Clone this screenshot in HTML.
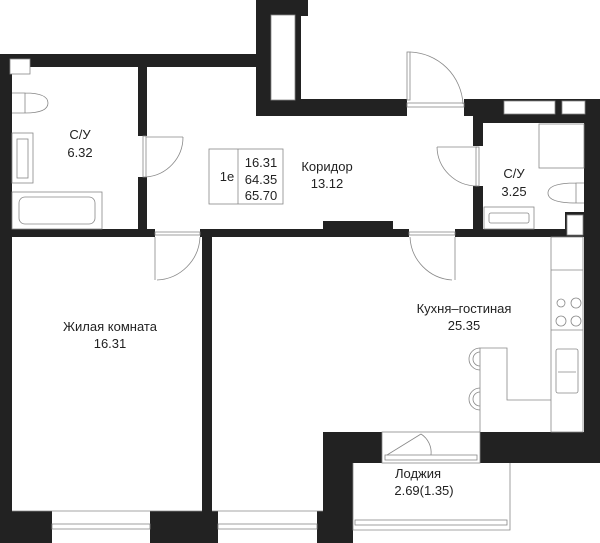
<!DOCTYPE html>
<html><head><meta charset="utf-8"><style>
body{margin:0;background:#fff}
svg{display:block}
text{font-family:"Liberation Sans",sans-serif;font-size:13px;fill:#222;text-anchor:middle}
</style></head><body>
<svg width="600" height="543" viewBox="0 0 600 543" xmlns="http://www.w3.org/2000/svg">
<g fill="#222">
<!-- top left wall -->
<rect x="0" y="54" width="258" height="13"/>
<rect x="0" y="54" width="12" height="489"/>
<!-- shaft -->
<rect x="256" y="0" width="45" height="116"/>
<rect x="300" y="0" width="8" height="16"/>
<!-- corridor top wall -->
<rect x="300" y="99" width="107" height="17"/>
<rect x="464" y="99" width="136" height="17"/>
<!-- right outer wall -->
<rect x="584" y="99" width="16" height="335"/>
<rect x="480" y="432" width="120" height="31"/>
<!-- SU2 walls -->
<rect x="473" y="116" width="112" height="7"/>
<rect x="473" y="116" width="10" height="30"/>
<rect x="473" y="186" width="10" height="51"/>
<rect x="455" y="229" width="130" height="8"/>
<rect x="565" y="212" width="20" height="25"/>
<!-- corridor bottom wall -->
<rect x="0" y="229" width="155" height="8"/>
<rect x="200" y="229" width="209" height="8"/>
<rect x="323" y="221" width="70" height="9"/>
<!-- SU1 / corridor wall -->
<rect x="138" y="66" width="9" height="70"/>
<rect x="138" y="177" width="9" height="53"/>
<!-- living/kitchen wall -->
<rect x="202" y="229" width="10" height="283"/>
<!-- bottom -->
<rect x="0" y="511" width="52" height="32"/>
<rect x="150" y="511" width="68" height="32"/>
<rect x="317" y="511" width="36" height="32"/>
<rect x="323" y="432" width="59" height="31"/>
<rect x="323" y="432" width="30" height="111"/>
</g>
<g fill="#fff" stroke="#888" stroke-width="0.8">
<rect x="10" y="59" width="20" height="15"/>
<rect x="271" y="15" width="24" height="85"/>
<rect x="504" y="101" width="51" height="13"/>
<rect x="562" y="101" width="23" height="13"/>
<rect x="567" y="215" width="16" height="20"/>
</g>
<g fill="none" stroke="#888" stroke-width="0.8">
<!-- room bottom edges -->
<line x1="12" y1="511" x2="202" y2="511"/>
<line x1="212" y1="511" x2="323" y2="511"/>
<!-- windows -->
<rect x="52" y="524" width="98" height="5"/>
<rect x="218" y="524" width="99" height="5"/>
<rect x="382" y="432" width="98" height="31"/>
<rect x="385" y="455" width="92" height="5"/>
<polyline points="353,463 353,530 510,530 510,463"/>
<rect x="355" y="520" width="152" height="5"/>
<line x1="387" y1="455" x2="421" y2="434"/>
<path d="M421 434 A22 22 0 0 1 431 455"/>
<!-- doors -->
<rect x="407" y="52" width="3" height="48"/>
<path d="M410 52 A55 55 0 0 1 463 104"/>
<rect x="407" y="103" width="57" height="4"/>
<rect x="143" y="136" width="3" height="41"/>
<path d="M146 137 L183 137 M183 137 A40 40 0 0 1 146 177"/>
<rect x="155" y="232" width="45" height="3"/>
<path d="M155 237 L155 280 M200 237 A45 45 0 0 1 157 280"/>
<rect x="409" y="232" width="46" height="3"/>
<path d="M455 237 L455 280 M410 237 A45 45 0 0 0 452 280"/>
<path d="M477 147 L437 147 M437 147 A40 40 0 0 0 477 186"/>
<rect x="476" y="147" width="3" height="39"/>
<!-- SU1 fixtures -->
<path d="M12 93 L25 93 L25 113 L12 113 M25 93 Q48 93 48 103 Q48 113 25 113"/>
<rect x="12" y="133" width="21" height="50"/>
<rect x="17" y="139" width="11" height="39"/>
<rect x="12" y="192" width="90" height="37"/>
<rect x="19" y="197" width="76" height="27" rx="6"/>
<!-- SU2 fixtures -->
<rect x="539" y="124" width="45" height="44"/>
<path d="M584 183 L576 183 L576 203 L584 203 M576 183 Q548 183 548 193 Q548 203 576 203"/>
<rect x="484" y="207" width="50" height="22"/>
<rect x="489" y="213" width="40" height="10" rx="2"/>
<!-- info box -->
<rect x="209" y="149" width="74" height="55"/>
<line x1="238" y1="149" x2="238" y2="204"/>
<!-- kitchen -->
<rect x="551" y="237" width="32" height="195"/>
<line x1="551" y1="270" x2="583" y2="270"/>
<line x1="551" y1="330" x2="583" y2="330"/>
<circle cx="561" cy="303" r="4"/><circle cx="576" cy="303" r="5"/>
<circle cx="561" cy="321" r="5"/><circle cx="576" cy="321" r="5"/>
<rect x="556" y="349" width="22" height="44" rx="2"/>
<line x1="558" y1="372" x2="576" y2="372"/>
<polyline points="480,432 480,348 507,348 507,400 551,400"/>
<path d="M480 348 A10 10 0 0 0 480 370 M480 352 A7 7 0 0 0 480 366"/>
<path d="M480 388 A10 10 0 0 0 480 410 M480 392 A7 7 0 0 0 480 406"/>
</g>
<text x="80" y="139">С/У</text><text x="80" y="157">6.32</text>
<text x="227" y="181">1е</text>
<text x="261" y="167">16.31</text><text x="261" y="184">64.35</text><text x="261" y="200">65.70</text>
<text x="327" y="171">Коридор</text><text x="327" y="188">13.12</text>
<text x="514" y="178">С/У</text><text x="514" y="196">3.25</text>
<text x="110" y="331">Жилая комната</text><text x="110" y="348">16.31</text>
<text x="464" y="313">Кухня–гостиная</text><text x="464" y="330">25.35</text>
<text x="418" y="478">Лоджия</text><text x="424" y="495">2.69(1.35)</text>
</svg>
</body></html>
